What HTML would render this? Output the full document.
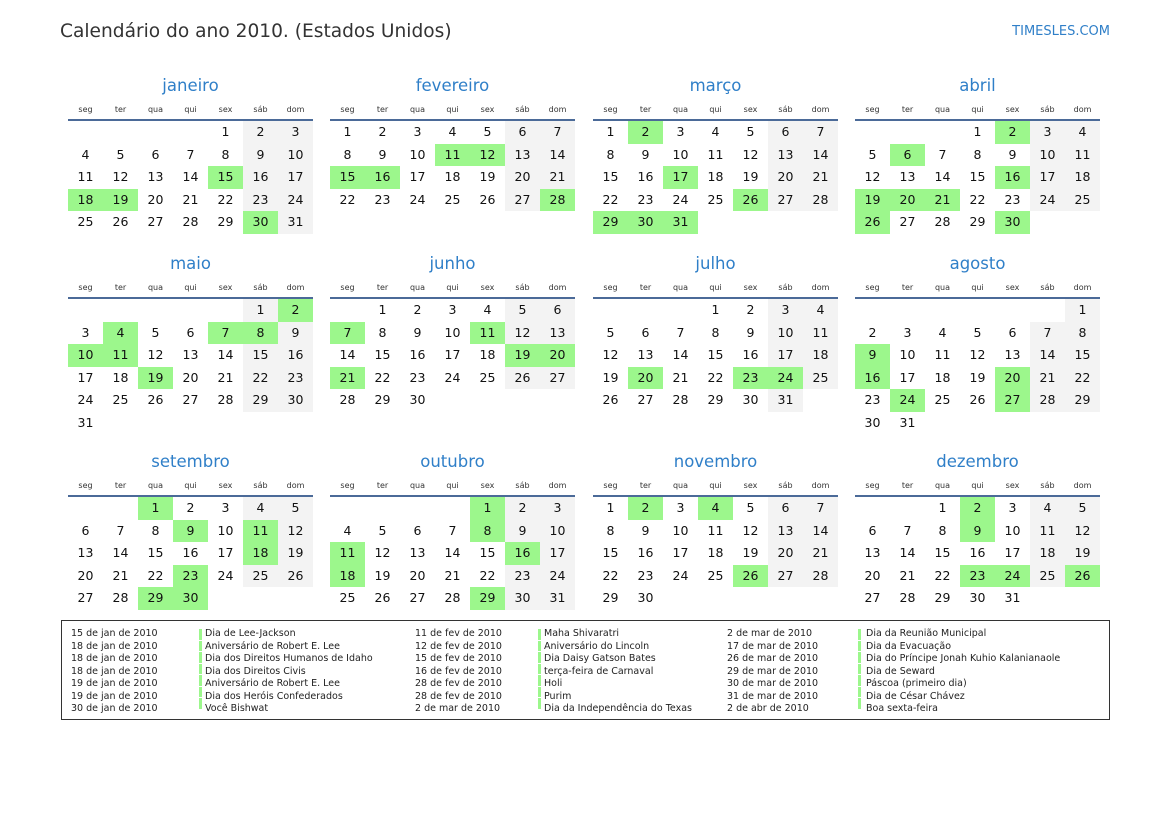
<!DOCTYPE html>
<html><head><meta charset="utf-8">
<style>
*{margin:0;padding:0;box-sizing:border-box}
body{width:1169px;height:827px;background:#fff;position:relative;font-family:"DejaVu Sans","Liberation Sans",sans-serif;color:#111;overflow:hidden}
.title{position:absolute;left:60px;top:21px;font-size:18.6px;color:#333;white-space:nowrap}
.site{position:absolute;right:59px;top:24px;font-size:13px;color:#2f7fc8}
.m{position:absolute;width:245px}
.mt{text-align:center;font-size:16.5px;color:#2f7fc8;height:31px;line-height:24px}
.dn{display:grid;grid-template-columns:repeat(7,35px);font-size:8px;color:#333;text-align:center;height:14px;line-height:10px}
.ln{height:2px;background:#4b6a98;margin-top:0}
.g{display:grid;grid-template-columns:repeat(7,35px);grid-auto-rows:22.6px;font-size:12.5px;text-align:center;line-height:22.6px}
.g b{font-weight:normal}
.g .w{background:#f3f3f3}
.g .h{background:#9cf78c}
.box{position:absolute;left:61px;top:620px;width:1049px;height:100px;border:1.5px solid #333}
.col{position:absolute;top:7px;font-size:9.5px;line-height:12.5px;color:#222;white-space:nowrap}
.bar{position:absolute;top:7px}
.bar div{border-left:3px solid #9cf78c;margin:1px 0;height:10.5px}
</style></head><body>
<div class="title">Calendário do ano 2010. (Estados Unidos)</div>
<div class="site">TIMESLES.COM</div>

<!-- Row 1 -->
<div class="m" style="left:68px;top:74px"><div class="mt">janeiro</div><div class="dn"><span>seg</span><span>ter</span><span>qua</span><span>qui</span><span>sex</span><span>sáb</span><span>dom</span></div><div class="ln"></div>
<div class="g"><i></i><i></i><i></i><i></i><b>1</b><b class="w">2</b><b class="w">3</b><b>4</b><b>5</b><b>6</b><b>7</b><b>8</b><b class="w">9</b><b class="w">10</b><b>11</b><b>12</b><b>13</b><b>14</b><b class="h">15</b><b class="w">16</b><b class="w">17</b><b class="h">18</b><b class="h">19</b><b>20</b><b>21</b><b>22</b><b class="w">23</b><b class="w">24</b><b>25</b><b>26</b><b>27</b><b>28</b><b>29</b><b class="h">30</b><b class="w">31</b></div></div>

<div class="m" style="left:330px;top:74px"><div class="mt">fevereiro</div><div class="dn"><span>seg</span><span>ter</span><span>qua</span><span>qui</span><span>sex</span><span>sáb</span><span>dom</span></div><div class="ln"></div>
<div class="g"><b>1</b><b>2</b><b>3</b><b>4</b><b>5</b><b class="w">6</b><b class="w">7</b><b>8</b><b>9</b><b>10</b><b class="h">11</b><b class="h">12</b><b class="w">13</b><b class="w">14</b><b class="h">15</b><b class="h">16</b><b>17</b><b>18</b><b>19</b><b class="w">20</b><b class="w">21</b><b>22</b><b>23</b><b>24</b><b>25</b><b>26</b><b class="w">27</b><b class="h">28</b></div></div>

<div class="m" style="left:593px;top:74px"><div class="mt">março</div><div class="dn"><span>seg</span><span>ter</span><span>qua</span><span>qui</span><span>sex</span><span>sáb</span><span>dom</span></div><div class="ln"></div>
<div class="g"><b>1</b><b class="h">2</b><b>3</b><b>4</b><b>5</b><b class="w">6</b><b class="w">7</b><b>8</b><b>9</b><b>10</b><b>11</b><b>12</b><b class="w">13</b><b class="w">14</b><b>15</b><b>16</b><b class="h">17</b><b>18</b><b>19</b><b class="w">20</b><b class="w">21</b><b>22</b><b>23</b><b>24</b><b>25</b><b class="h">26</b><b class="w">27</b><b class="w">28</b><b class="h">29</b><b class="h">30</b><b class="h">31</b></div></div>

<div class="m" style="left:855px;top:74px"><div class="mt">abril</div><div class="dn"><span>seg</span><span>ter</span><span>qua</span><span>qui</span><span>sex</span><span>sáb</span><span>dom</span></div><div class="ln"></div>
<div class="g"><i></i><i></i><i></i><b>1</b><b class="h">2</b><b class="w">3</b><b class="w">4</b><b>5</b><b class="h">6</b><b>7</b><b>8</b><b>9</b><b class="w">10</b><b class="w">11</b><b>12</b><b>13</b><b>14</b><b>15</b><b class="h">16</b><b class="w">17</b><b class="w">18</b><b class="h">19</b><b class="h">20</b><b class="h">21</b><b>22</b><b>23</b><b class="w">24</b><b class="w">25</b><b class="h">26</b><b>27</b><b>28</b><b>29</b><b class="h">30</b></div></div>

<!-- Row 2 -->
<div class="m" style="left:68px;top:252px"><div class="mt">maio</div><div class="dn"><span>seg</span><span>ter</span><span>qua</span><span>qui</span><span>sex</span><span>sáb</span><span>dom</span></div><div class="ln"></div>
<div class="g"><i></i><i></i><i></i><i></i><i></i><b class="w">1</b><b class="h">2</b><b>3</b><b class="h">4</b><b>5</b><b>6</b><b class="h">7</b><b class="h">8</b><b class="w">9</b><b class="h">10</b><b class="h">11</b><b>12</b><b>13</b><b>14</b><b class="w">15</b><b class="w">16</b><b>17</b><b>18</b><b class="h">19</b><b>20</b><b>21</b><b class="w">22</b><b class="w">23</b><b>24</b><b>25</b><b>26</b><b>27</b><b>28</b><b class="w">29</b><b class="w">30</b><b>31</b></div></div>

<div class="m" style="left:330px;top:252px"><div class="mt">junho</div><div class="dn"><span>seg</span><span>ter</span><span>qua</span><span>qui</span><span>sex</span><span>sáb</span><span>dom</span></div><div class="ln"></div>
<div class="g"><i></i><b>1</b><b>2</b><b>3</b><b>4</b><b class="w">5</b><b class="w">6</b><b class="h">7</b><b>8</b><b>9</b><b>10</b><b class="h">11</b><b class="w">12</b><b class="w">13</b><b>14</b><b>15</b><b>16</b><b>17</b><b>18</b><b class="h">19</b><b class="h">20</b><b class="h">21</b><b>22</b><b>23</b><b>24</b><b>25</b><b class="w">26</b><b class="w">27</b><b>28</b><b>29</b><b>30</b></div></div>

<div class="m" style="left:593px;top:252px"><div class="mt">julho</div><div class="dn"><span>seg</span><span>ter</span><span>qua</span><span>qui</span><span>sex</span><span>sáb</span><span>dom</span></div><div class="ln"></div>
<div class="g"><i></i><i></i><i></i><b>1</b><b>2</b><b class="w">3</b><b class="w">4</b><b>5</b><b>6</b><b>7</b><b>8</b><b>9</b><b class="w">10</b><b class="w">11</b><b>12</b><b>13</b><b>14</b><b>15</b><b>16</b><b class="w">17</b><b class="w">18</b><b>19</b><b class="h">20</b><b>21</b><b>22</b><b class="h">23</b><b class="h">24</b><b class="w">25</b><b>26</b><b>27</b><b>28</b><b>29</b><b>30</b><b class="w">31</b></div></div>

<div class="m" style="left:855px;top:252px"><div class="mt">agosto</div><div class="dn"><span>seg</span><span>ter</span><span>qua</span><span>qui</span><span>sex</span><span>sáb</span><span>dom</span></div><div class="ln"></div>
<div class="g"><i></i><i></i><i></i><i></i><i></i><i></i><b class="w">1</b><b>2</b><b>3</b><b>4</b><b>5</b><b>6</b><b class="w">7</b><b class="w">8</b><b class="h">9</b><b>10</b><b>11</b><b>12</b><b>13</b><b class="w">14</b><b class="w">15</b><b class="h">16</b><b>17</b><b>18</b><b>19</b><b class="h">20</b><b class="w">21</b><b class="w">22</b><b>23</b><b class="h">24</b><b>25</b><b>26</b><b class="h">27</b><b class="w">28</b><b class="w">29</b><b>30</b><b>31</b></div></div>

<!-- Row 3 -->
<div class="m" style="left:68px;top:450px"><div class="mt">setembro</div><div class="dn"><span>seg</span><span>ter</span><span>qua</span><span>qui</span><span>sex</span><span>sáb</span><span>dom</span></div><div class="ln"></div>
<div class="g"><i></i><i></i><b class="h">1</b><b>2</b><b>3</b><b class="w">4</b><b class="w">5</b><b>6</b><b>7</b><b>8</b><b class="h">9</b><b>10</b><b class="h">11</b><b class="w">12</b><b>13</b><b>14</b><b>15</b><b>16</b><b>17</b><b class="h">18</b><b class="w">19</b><b>20</b><b>21</b><b>22</b><b class="h">23</b><b>24</b><b class="w">25</b><b class="w">26</b><b>27</b><b>28</b><b class="h">29</b><b class="h">30</b></div></div>

<div class="m" style="left:330px;top:450px"><div class="mt">outubro</div><div class="dn"><span>seg</span><span>ter</span><span>qua</span><span>qui</span><span>sex</span><span>sáb</span><span>dom</span></div><div class="ln"></div>
<div class="g"><i></i><i></i><i></i><i></i><b class="h">1</b><b class="w">2</b><b class="w">3</b><b>4</b><b>5</b><b>6</b><b>7</b><b class="h">8</b><b class="w">9</b><b class="w">10</b><b class="h">11</b><b>12</b><b>13</b><b>14</b><b>15</b><b class="h">16</b><b class="w">17</b><b class="h">18</b><b>19</b><b>20</b><b>21</b><b>22</b><b class="w">23</b><b class="w">24</b><b>25</b><b>26</b><b>27</b><b>28</b><b class="h">29</b><b class="w">30</b><b class="w">31</b></div></div>

<div class="m" style="left:593px;top:450px"><div class="mt">novembro</div><div class="dn"><span>seg</span><span>ter</span><span>qua</span><span>qui</span><span>sex</span><span>sáb</span><span>dom</span></div><div class="ln"></div>
<div class="g"><b>1</b><b class="h">2</b><b>3</b><b class="h">4</b><b>5</b><b class="w">6</b><b class="w">7</b><b>8</b><b>9</b><b>10</b><b>11</b><b>12</b><b class="w">13</b><b class="w">14</b><b>15</b><b>16</b><b>17</b><b>18</b><b>19</b><b class="w">20</b><b class="w">21</b><b>22</b><b>23</b><b>24</b><b>25</b><b class="h">26</b><b class="w">27</b><b class="w">28</b><b>29</b><b>30</b></div></div>

<div class="m" style="left:855px;top:450px"><div class="mt">dezembro</div><div class="dn"><span>seg</span><span>ter</span><span>qua</span><span>qui</span><span>sex</span><span>sáb</span><span>dom</span></div><div class="ln"></div>
<div class="g"><i></i><i></i><b>1</b><b class="h">2</b><b>3</b><b class="w">4</b><b class="w">5</b><b>6</b><b>7</b><b>8</b><b class="h">9</b><b>10</b><b class="w">11</b><b class="w">12</b><b>13</b><b>14</b><b>15</b><b>16</b><b>17</b><b class="w">18</b><b class="w">19</b><b>20</b><b>21</b><b>22</b><b class="h">23</b><b class="h">24</b><b class="w">25</b><b class="h">26</b><b>27</b><b>28</b><b>29</b><b>30</b><b>31</b></div></div>

<div class="box">
<div class="col" style="left:9px">15 de jan de 2010<br>18 de jan de 2010<br>18 de jan de 2010<br>18 de jan de 2010<br>19 de jan de 2010<br>19 de jan de 2010<br>30 de jan de 2010</div>
<div class="bar" style="left:137px"><div></div><div></div><div></div><div></div><div></div><div></div><div></div></div>
<div class="col" style="left:143px">Dia de Lee-Jackson<br>Aniversário de Robert E. Lee<br>Dia dos Direitos Humanos de Idaho<br>Dia dos Direitos Civis<br>Aniversário de Robert E. Lee<br>Dia dos Heróis Confederados<br>Você Bishwat</div>
<div class="col" style="left:353px">11 de fev de 2010<br>12 de fev de 2010<br>15 de fev de 2010<br>16 de fev de 2010<br>28 de fev de 2010<br>28 de fev de 2010<br>2 de mar de 2010</div>
<div class="bar" style="left:476px"><div></div><div></div><div></div><div></div><div></div><div></div><div></div></div>
<div class="col" style="left:482px">Maha Shivaratri<br>Aniversário do Lincoln<br>Dia Daisy Gatson Bates<br>terça-feira de Carnaval<br>Holi<br>Purim<br>Dia da Independência do Texas</div>
<div class="col" style="left:665px">2 de mar de 2010<br>17 de mar de 2010<br>26 de mar de 2010<br>29 de mar de 2010<br>30 de mar de 2010<br>31 de mar de 2010<br>2 de abr de 2010</div>
<div class="bar" style="left:796px"><div></div><div></div><div></div><div></div><div></div><div></div><div></div></div>
<div class="col" style="left:804px">Dia da Reunião Municipal<br>Dia da Evacuação<br>Dia do Príncipe Jonah Kuhio Kalanianaole<br>Dia de Seward<br>Páscoa (primeiro dia)<br>Dia de César Chávez<br>Boa sexta-feira</div>
</div>
</body></html>
